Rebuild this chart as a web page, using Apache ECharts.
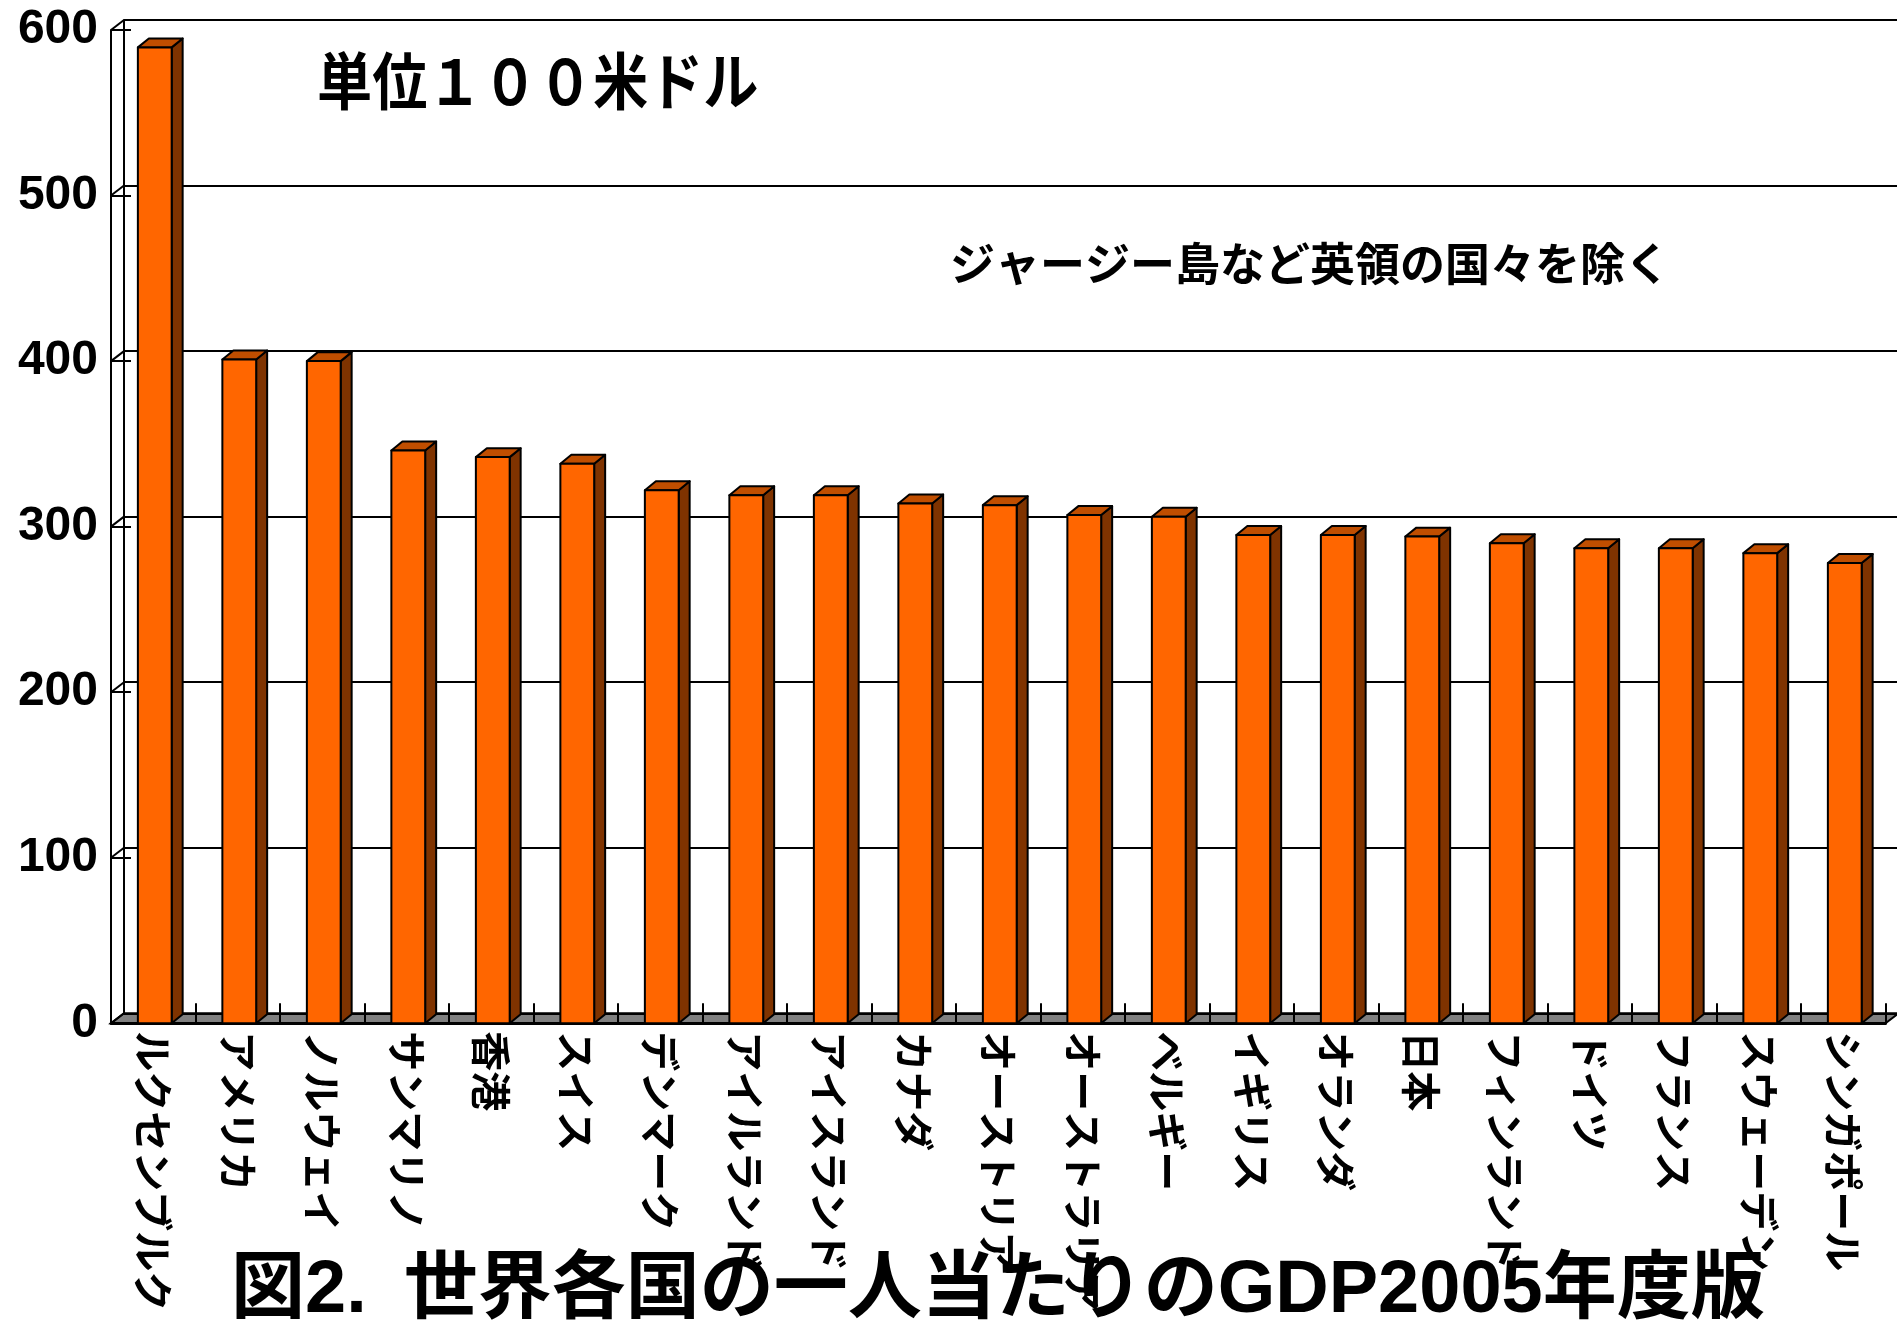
<!DOCTYPE html>
<html>
<head>
<meta charset="utf-8">
<script src="https://cdn.jsdelivr.net/npm/echarts@6/dist/echarts.min.js"></script>
<style>
html,body{margin:0;padding:0;background:#fff;}
#chart{width:1897px;height:1327px;}
</style>
</head>
<body>
<div id="chart"></div>
<script>
// Countries (category axis)
const categories = ['ルクセンブルク','アメリカ','ノルウェイ','サンマリノ','香港','スイス','デンマーク','アイルランド','アイスランド','カナダ','オーストリア','オーストラリア','ベルギー','イギリス','オランダ','日本','フィンランド','ドイツ','フランス','スウェーデン','シンガポール'];
// GDP per capita, unit: 100 US dollars
const gdpValues = [589.5, 401, 400, 346, 342, 338, 322, 319, 319, 314, 313, 307, 306, 295, 295, 294, 290, 287, 287, 284, 278];
// Value axis ticks
const yTicks = [0, 100, 200, 300, 400, 500, 600];
const unitText = '単位１００米ドル';
const noteText = 'ジャージー島など英領の国々を除く';
const titleText = '図2.\u2002世界各国の一人当たりのGDP2005年度版';

const chart = echarts.init(document.getElementById('chart'));

const DEPTH_X = 13, DEPTH_Y = -10;   // wall depth
const G = {left: 111, top: 30, width: 1774.5, height: 993.3};

function renderFloor(params, api) {
  const cs = params.coordSys;
  const x0 = cs.x, x1 = cs.x + cs.width, yb = cs.y + cs.height;
  const children = [{
    type: 'polygon',
    shape: {points: [[x0, yb], [x1, yb], [x1 + DEPTH_X, yb + DEPTH_Y], [x0 + DEPTH_X, yb + DEPTH_Y]]},
    style: {fill: '#808080', stroke: '#000', lineWidth: 2}
  }];
  yTicks.forEach(function (t) {
    const p = api.coord([0, t]);
    children.push({
      type: 'line',
      shape: {x1: x0, y1: p[1], x2: x0 + DEPTH_X, y2: p[1] + DEPTH_Y},
      style: {stroke: '#000', lineWidth: 2}
    });
  });
  return {type: 'group', children: children};
}

function renderBar(params, api) {
  const i = api.value(0), v = api.value(1);
  const base = api.coord([i, 0]);
  const top = api.coord([i, v]);
  const band = api.size([1, 0])[0];
  const w = band * 0.40;
  const dx = band * 0.13, dy = -band * 0.106;
  const xl = base[0] - w / 2 + band * 0.018;
  const xr = xl + w;
  const yt = top[1], yb = base[1];
  const st = {stroke: '#000', lineWidth: 2, lineJoin: 'round'};
  return {
    type: 'group',
    children: [
      {type: 'polygon', shape: {points: [[xr, yb], [xr + dx, yb + dy], [xr + dx, yt + dy], [xr, yt]]},
       style: Object.assign({fill: '#7F3300'}, st)},
      {type: 'polygon', shape: {points: [[xl, yt], [xl + dx, yt + dy], [xr + dx, yt + dy], [xr, yt]]},
       style: Object.assign({fill: '#C04E00'}, st)},
      {type: 'rect', shape: {x: xl, y: yt, width: w, height: yb - yt},
       style: Object.assign({fill: '#FF6600'}, st)}
    ]
  };
}

const option = {
  animation: false,
  backgroundColor: '#ffffff',
  grid: [
    {left: G.left, top: G.top, width: G.width, height: G.height},
    {left: G.left + DEPTH_X, top: G.top + DEPTH_Y, width: G.width, height: G.height}
  ],
  xAxis: [
    {
      type: 'category', gridIndex: 0, data: categories,
      axisLine: {show: true, lineStyle: {color: '#000', width: 3}},
      axisTick: {show: true, inside: true, length: 20, lineStyle: {color: '#000', width: 2}},
      axisLabel: {interval: 0, rotate: -90, margin: 8, color: '#000', fontSize: 40,
                  fontWeight: 'bold', fontFamily: '"Noto Sans CJK JP"'},
      splitLine: {show: false}
    },
    {
      type: 'category', gridIndex: 1, data: categories, show: false
    }
  ],
  yAxis: [
    {
      type: 'value', gridIndex: 0, min: 0, max: 600, interval: 100,
      axisLine: {show: true, lineStyle: {color: '#000', width: 2}},
      axisTick: {show: true, inside: true, length: 20, lineStyle: {color: '#000', width: 2}},
      axisLabel: {color: '#000', fontSize: 48, fontWeight: 'bold', fontFamily: '"Liberation Sans"', margin: 13},
      splitLine: {show: false}
    },
    {
      type: 'value', gridIndex: 1, min: 0, max: 600, interval: 100,
      axisLine: {show: true, lineStyle: {color: '#000', width: 2}},
      axisTick: {show: false},
      axisLabel: {show: false},
      splitLine: {show: true, lineStyle: {color: '#000', width: 2}}
    }
  ],
  series: [
    {
      type: 'custom', name: 'floor', xAxisIndex: 0, yAxisIndex: 0, z: -1,
      renderItem: renderFloor, data: [[0, 0]], silent: true
    },
    {
      type: 'custom', name: 'GDP', xAxisIndex: 0, yAxisIndex: 0, z: 3,
      renderItem: renderBar,
      encode: {x: 0, y: 1},
      data: gdpValues.map(function (v, i) { return [i, v]; })
    }
  ],
  graphic: [
    {type: 'text', x: 317, y: 50, scaleX: 0.89, z: 10,
     style: {text: unitText, fill: '#000', font: 'bold 62px "Noto Sans CJK JP"'}},
    {type: 'text', left: 950, top: 268 - 27, z: 10,
     style: {text: noteText, fill: '#000', font: 'bold 45px "Noto Sans CJK JP"'}},
    {type: 'text', left: 231, top: 1299 - 44, z: 10,
     style: {text: titleText, fill: '#000', font: 'bold 74px "Liberation Sans", "Noto Sans CJK JP"'}}
  ]
};
chart.setOption(option);
</script>
</body>
</html>
